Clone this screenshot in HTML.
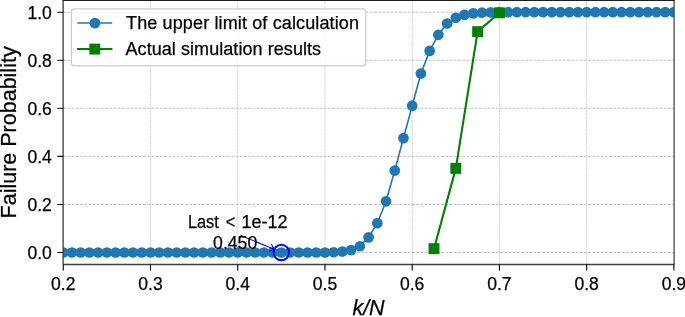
<!DOCTYPE html>
<html><head><meta charset="utf-8"><style>
html,body{margin:0;padding:0;background:#fff;}
body{width:685px;height:317px;overflow:hidden;position:relative;font-family:"Liberation Sans", sans-serif;}
</style></head><body>
<svg width="685" height="317" viewBox="0 0 685 317" style="position:absolute;left:0;top:0;will-change:transform">
<defs><clipPath id="ax"><rect x="63.25" y="0.2" width="610.65" height="264.30"/></clipPath></defs>
<path d="M63.25,0.2V264.5M150.49,0.2V264.5M237.72,0.2V264.5M324.96,0.2V264.5M412.19,0.2V264.5M499.43,0.2V264.5M586.66,0.2V264.5M673.90,0.2V264.5" stroke="#cdcdcd" stroke-width="1.0" stroke-dasharray="1.5,0.8" fill="none"/>
<path d="M63.25,252.50H673.90M63.25,204.44H673.90M63.25,156.38H673.90M63.25,108.32H673.90M63.25,60.26H673.90M63.25,12.20H673.90" stroke="#c2c2c2" stroke-width="1.0" stroke-dasharray="2.8,1.4" fill="none"/>
<g clip-path="url(#ax)">
<polyline points="63.25,252.50 71.97,252.50 80.70,252.50 89.42,252.50 98.14,252.50 106.87,252.50 115.59,252.50 124.32,252.50 133.04,252.50 141.76,252.50 150.49,252.50 159.21,252.50 167.93,252.50 176.66,252.50 185.38,252.50 194.10,252.50 202.83,252.50 211.55,252.50 220.27,252.50 229.00,252.50 237.72,252.50 246.44,252.50 255.17,252.50 263.89,252.50 272.62,252.50 281.34,252.50 290.06,252.50 298.79,252.50 307.51,252.50 316.23,252.50 324.96,252.50 333.68,252.26 342.40,251.54 351.13,250.10 359.85,246.25 368.58,237.36 377.30,223.18 386.02,201.32 394.75,170.56 403.47,138.12 412.19,105.68 420.92,73.48 429.64,50.89 438.36,34.79 447.09,23.49 455.81,17.73 464.53,14.84 473.26,13.40 481.98,12.68 490.70,12.44 499.43,12.20 508.15,12.20 516.88,12.20 525.60,12.20 534.32,12.20 543.05,12.20 551.77,12.20 560.49,12.20 569.22,12.20 577.94,12.20 586.66,12.20 595.39,12.20 604.11,12.20 612.83,12.20 621.56,12.20 630.28,12.20 639.01,12.20 647.73,12.20 656.45,12.20 665.18,12.20 673.90,12.20" fill="none" stroke="#1f77b4" stroke-width="1.6" stroke-linejoin="round"/>
<g fill="#1f77b4"><circle cx="63.25" cy="252.50" r="5.35"/><circle cx="71.97" cy="252.50" r="5.35"/><circle cx="80.70" cy="252.50" r="5.35"/><circle cx="89.42" cy="252.50" r="5.35"/><circle cx="98.14" cy="252.50" r="5.35"/><circle cx="106.87" cy="252.50" r="5.35"/><circle cx="115.59" cy="252.50" r="5.35"/><circle cx="124.32" cy="252.50" r="5.35"/><circle cx="133.04" cy="252.50" r="5.35"/><circle cx="141.76" cy="252.50" r="5.35"/><circle cx="150.49" cy="252.50" r="5.35"/><circle cx="159.21" cy="252.50" r="5.35"/><circle cx="167.93" cy="252.50" r="5.35"/><circle cx="176.66" cy="252.50" r="5.35"/><circle cx="185.38" cy="252.50" r="5.35"/><circle cx="194.10" cy="252.50" r="5.35"/><circle cx="202.83" cy="252.50" r="5.35"/><circle cx="211.55" cy="252.50" r="5.35"/><circle cx="220.27" cy="252.50" r="5.35"/><circle cx="229.00" cy="252.50" r="5.35"/><circle cx="237.72" cy="252.50" r="5.35"/><circle cx="246.44" cy="252.50" r="5.35"/><circle cx="255.17" cy="252.50" r="5.35"/><circle cx="263.89" cy="252.50" r="5.35"/><circle cx="272.62" cy="252.50" r="5.35"/><circle cx="281.34" cy="252.50" r="5.35"/><circle cx="290.06" cy="252.50" r="5.35"/><circle cx="298.79" cy="252.50" r="5.35"/><circle cx="307.51" cy="252.50" r="5.35"/><circle cx="316.23" cy="252.50" r="5.35"/><circle cx="324.96" cy="252.50" r="5.35"/><circle cx="333.68" cy="252.26" r="5.35"/><circle cx="342.40" cy="251.54" r="5.35"/><circle cx="351.13" cy="250.10" r="5.35"/><circle cx="359.85" cy="246.25" r="5.35"/><circle cx="368.58" cy="237.36" r="5.35"/><circle cx="377.30" cy="223.18" r="5.35"/><circle cx="386.02" cy="201.32" r="5.35"/><circle cx="394.75" cy="170.56" r="5.35"/><circle cx="403.47" cy="138.12" r="5.35"/><circle cx="412.19" cy="105.68" r="5.35"/><circle cx="420.92" cy="73.48" r="5.35"/><circle cx="429.64" cy="50.89" r="5.35"/><circle cx="438.36" cy="34.79" r="5.35"/><circle cx="447.09" cy="23.49" r="5.35"/><circle cx="455.81" cy="17.73" r="5.35"/><circle cx="464.53" cy="14.84" r="5.35"/><circle cx="473.26" cy="13.40" r="5.35"/><circle cx="481.98" cy="12.68" r="5.35"/><circle cx="490.70" cy="12.44" r="5.35"/><circle cx="499.43" cy="12.20" r="5.35"/><circle cx="508.15" cy="12.20" r="5.35"/><circle cx="516.88" cy="12.20" r="5.35"/><circle cx="525.60" cy="12.20" r="5.35"/><circle cx="534.32" cy="12.20" r="5.35"/><circle cx="543.05" cy="12.20" r="5.35"/><circle cx="551.77" cy="12.20" r="5.35"/><circle cx="560.49" cy="12.20" r="5.35"/><circle cx="569.22" cy="12.20" r="5.35"/><circle cx="577.94" cy="12.20" r="5.35"/><circle cx="586.66" cy="12.20" r="5.35"/><circle cx="595.39" cy="12.20" r="5.35"/><circle cx="604.11" cy="12.20" r="5.35"/><circle cx="612.83" cy="12.20" r="5.35"/><circle cx="621.56" cy="12.20" r="5.35"/><circle cx="630.28" cy="12.20" r="5.35"/><circle cx="639.01" cy="12.20" r="5.35"/><circle cx="647.73" cy="12.20" r="5.35"/><circle cx="656.45" cy="12.20" r="5.35"/><circle cx="665.18" cy="12.20" r="5.35"/><circle cx="673.90" cy="12.20" r="5.35"/></g>
<polyline points="434.00,248.66 455.81,168.39 477.62,31.66 499.43,12.80" fill="none" stroke="#008000" stroke-width="2.1" stroke-linejoin="round"/>
<g fill="#008000"><rect x="428.55" y="243.21" width="10.9" height="10.9"/><rect x="450.36" y="162.94" width="10.9" height="10.9"/><rect x="472.17" y="26.21" width="10.9" height="10.9"/><rect x="493.98" y="7.35" width="10.9" height="10.9"/></g>
<circle cx="281.34" cy="252.50" r="7.75" fill="none" stroke="#0000ff" stroke-width="1.9"/>
</g>
<path d="M240.4,235.2L274.0,249.3M271.4,244.3L274.0,249.3L269.2,251.3" fill="none" stroke="#0000ff" stroke-width="1.05" stroke-linejoin="miter"/>
<g font-family='"Liberation Sans", sans-serif' font-size="18" fill="#000" stroke="#000" stroke-width="0.25"><text x="187.9" y="228.2" textLength="30.8" lengthAdjust="spacingAndGlyphs">Last</text><text x="225.7" y="228.2" textLength="9.6" lengthAdjust="spacingAndGlyphs">&lt;</text><text x="241.6" y="228.2">1e-12</text><text x="213.1" y="248.8" textLength="44.1" lengthAdjust="spacingAndGlyphs">0.450</text></g>
<path d="M63.1,0V264.5" stroke="#303030" stroke-width="1.2" fill="none"/>
<path d="M674.1,0V264.5" stroke="#222" stroke-width="1.0" fill="none"/>
<path d="M63,264.45H674.6" stroke="#424242" stroke-width="1.5" fill="none"/>
<path d="M63,0.4H674.6" stroke="#1c1c1c" stroke-width="1.2" fill="none"/>
<path d="M63.25,264.5V270.4M150.49,264.5V270.4M237.72,264.5V270.4M324.96,264.5V270.4M412.19,264.5V270.4M499.43,264.5V270.4M586.66,264.5V270.4M673.90,264.5V270.4M63.25,252.50H57.3M63.25,204.44H57.3M63.25,156.38H57.3M63.25,108.32H57.3M63.25,60.26H57.3M63.25,12.20H57.3" stroke="#000" stroke-width="1.1" fill="none"/>
<g font-family='"Liberation Sans", sans-serif' font-size="18" fill="#000" stroke="#000" stroke-width="0.25"><text x="63.25" y="289.8" text-anchor="middle" textLength="24.4" lengthAdjust="spacingAndGlyphs">0.2</text><text x="150.49" y="289.8" text-anchor="middle" textLength="24.4" lengthAdjust="spacingAndGlyphs">0.3</text><text x="237.72" y="289.8" text-anchor="middle" textLength="24.4" lengthAdjust="spacingAndGlyphs">0.4</text><text x="324.96" y="289.8" text-anchor="middle" textLength="24.4" lengthAdjust="spacingAndGlyphs">0.5</text><text x="412.19" y="289.8" text-anchor="middle" textLength="24.4" lengthAdjust="spacingAndGlyphs">0.6</text><text x="499.43" y="289.8" text-anchor="middle" textLength="24.4" lengthAdjust="spacingAndGlyphs">0.7</text><text x="586.66" y="289.8" text-anchor="middle" textLength="24.4" lengthAdjust="spacingAndGlyphs">0.8</text><text x="673.90" y="289.8" text-anchor="middle" textLength="24.4" lengthAdjust="spacingAndGlyphs">0.9</text><text x="51.8" y="259.30" text-anchor="end" textLength="24.4" lengthAdjust="spacingAndGlyphs">0.0</text><text x="51.8" y="211.24" text-anchor="end" textLength="24.4" lengthAdjust="spacingAndGlyphs">0.2</text><text x="51.8" y="163.18" text-anchor="end" textLength="24.4" lengthAdjust="spacingAndGlyphs">0.4</text><text x="51.8" y="115.12" text-anchor="end" textLength="24.4" lengthAdjust="spacingAndGlyphs">0.6</text><text x="51.8" y="67.06" text-anchor="end" textLength="24.4" lengthAdjust="spacingAndGlyphs">0.8</text><text x="51.8" y="19.00" text-anchor="end" textLength="24.4" lengthAdjust="spacingAndGlyphs">1.0</text></g>
<text x="368.5" y="314.7" text-anchor="middle" font-family='"Liberation Sans", sans-serif' font-size="21.5" font-style="italic" stroke="#000" stroke-width="0.25">k/N</text>
<text transform="translate(16.3,132.4) rotate(-90)" x="0" y="0" text-anchor="middle" font-family='"Liberation Sans", sans-serif' font-size="21.5" stroke="#000" stroke-width="0.25">Failure Probability</text>
<rect x="71.4" y="8.8" width="294.3" height="57.0" rx="2.8" fill="#fff" fill-opacity="0.8" stroke="#cbcbcb" stroke-width="1.2"/>
<path d="M77.3,23.0H112.2" stroke="#1f77b4" stroke-width="1.6"/><circle cx="94.9" cy="23.1" r="5.35" fill="#1f77b4"/>
<path d="M77.0,49.0H112.4" stroke="#008000" stroke-width="2.1"/><rect x="89.35" y="43.65" width="10.9" height="10.9" fill="#008000"/>
<g font-family='"Liberation Sans", sans-serif' font-size="18" fill="#000" stroke="#000" stroke-width="0.25"><text x="126.0" y="29.2" textLength="233" lengthAdjust="spacing">The upper limit of calculation</text><text x="125.5" y="54.6" textLength="195.6" lengthAdjust="spacing">Actual simulation results</text></g>
</svg>
</body></html>
